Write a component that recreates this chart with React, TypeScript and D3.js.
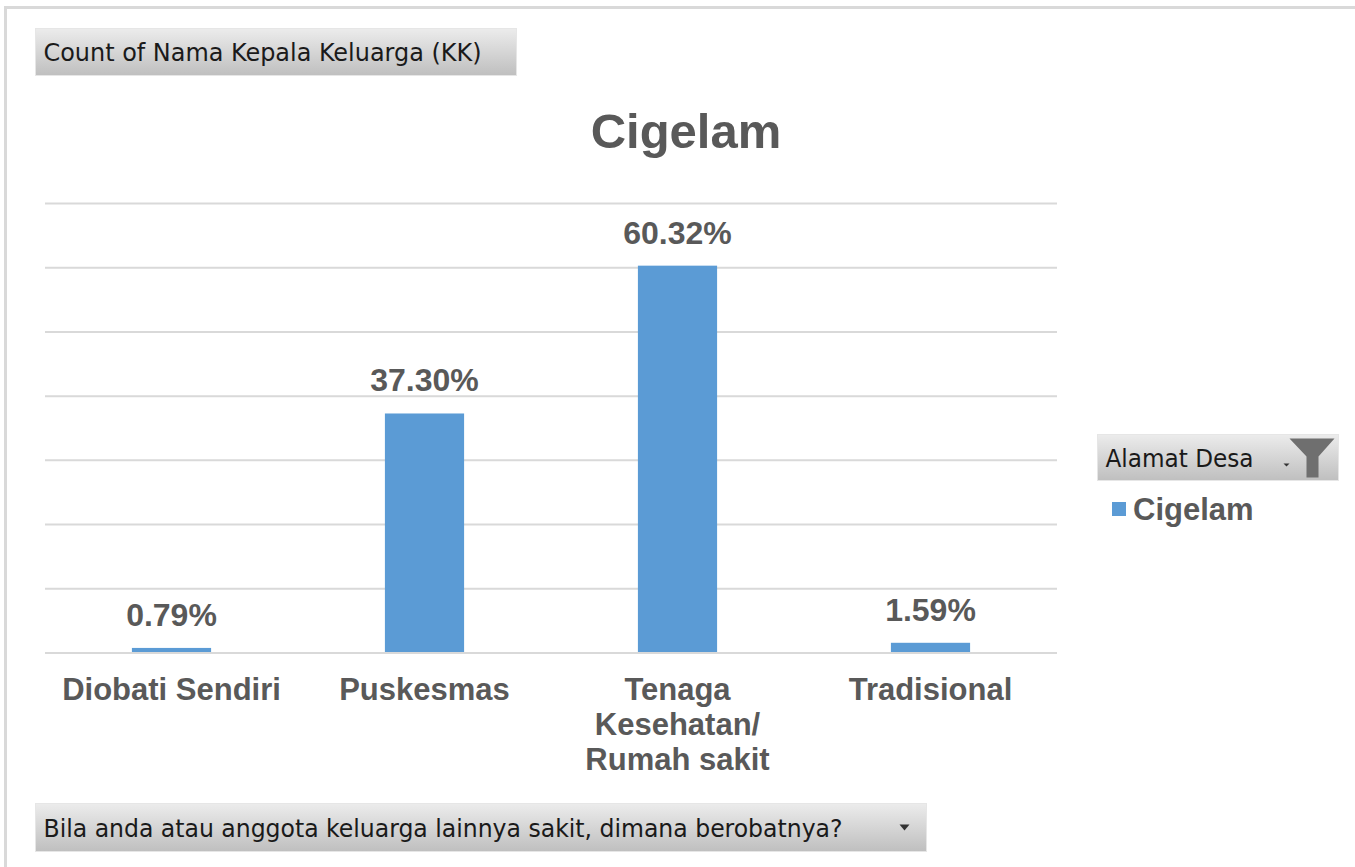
import React from 'react';
import * as d3 from 'd3';

const categories = ['Diobati Sendiri', 'Puskesmas', 'Tenaga\nKesehatan/\nRumah sakit', 'Tradisional'];
const values = [0.79, 37.3, 60.32, 1.59];
const yTicks = [0, 10, 20, 30, 40, 50, 60, 70];
const seriesName = 'Cigelam';
const chartTitle = 'Cigelam';
const valueField = 'Count of Nama Kepala Keluarga (KK)';
const legendField = 'Alamat Desa';
const axisField = 'Bila anda atau anggota keluarga lainnya sakit, dimana berobatnya?';

const W = 1355;
const H = 867;
const BAR = '#5b9bd5';
const TEXT = '#595959';
const GRID = '#d9d9d9';
const SANS = '"Liberation Sans", Arial, sans-serif';
const UI = '"DejaVu Sans Condensed", "DejaVu Sans", sans-serif';

function FieldButton({ x, y, w, h, label, textW, dropdown, filter }: {
  x: number; y: number; w: number; h: number; label: string; textW: number; dropdown?: boolean; filter?: boolean;
}) {
  return (
    <g>
      <rect x={x} y={y} width={w} height={h} fill="url(#btnGrad)" stroke="#e6e6e6" strokeWidth={1} />
      <text x={x + 8} y={y + h / 2 + 9} fontFamily={UI} fontSize={24} fill="#1a1a1a"
        textLength={textW} lengthAdjust="spacingAndGlyphs">{label}</text>
      {dropdown && (
        <path d={`M${x + w - 27},${y + h / 2 - 3} l10,0 l-5,6 z`} fill="#333" />
      )}
      {filter && (
        <g>
          <path d={`M${x + w - 55},${y + h / 2 + 6} l6,0 l-3,3 z`} fill="#333" />
          <path d={`M${x + w - 49},${y + 4} L${x + w - 4},${y + 4} L${x + w - 20},${y + 22} L${x + w - 20},${y + h - 3} L${x + w - 32},${y + h - 3} L${x + w - 32},${y + 22} Z`} fill="#6f6f6f" />
        </g>
      )}
    </g>
  );
}

export default function App() {
  const x = d3.scaleBand<string>().domain(categories).range([45, 1057]).padding(0);
  const y = d3.scaleLinear().domain([0, 70]).range([653, 203.5]);
  const barW = x.bandwidth() * 0.313;
  const fmt = (v: number) => `${v.toFixed(2)}%`;

  return (
    <svg width={W} height={H} viewBox={`0 0 ${W} ${H}`}
      style={{ position: 'absolute', left: 0, top: 0, display: 'block', background: '#fff' }}>
      <defs>
        <linearGradient id="btnGrad" x1="0" y1="0" x2="0" y2="1">
          <stop offset="0%" stopColor="#ececec" />
          <stop offset="100%" stopColor="#bfbfbf" />
        </linearGradient>
      </defs>

      {/* chart frame */}
      <rect x={5.5} y={7.5} width={W + 20} height={H + 20} fill="#fff" stroke={GRID} strokeWidth={3} />

      <FieldButton x={35.5} y={28.5} w={481} h={47} label={valueField} textW={438} />

      <text x={686} y={148} textAnchor="middle" fontFamily={SANS} fontWeight="bold" fontSize={49} fill={TEXT}>
        {chartTitle}
      </text>

      {/* gridlines */}
      {yTicks.map(t => (
        <line key={t} x1={45} x2={1057} y1={y(t)} y2={y(t)} stroke={GRID} strokeWidth={2} />
      ))}

      {/* bars */}
      {categories.map((c, i) => {
        const cx = (x(c) as number) + x.bandwidth() / 2;
        return (
          <g key={c}>
            <rect x={cx - barW / 2} y={y(values[i])} width={barW} height={y(0) - y(values[i]) - 1} fill={BAR} />
            <text x={cx} y={y(values[i]) - 22} textAnchor="middle" fontFamily={SANS} fontWeight="bold"
              fontSize={32} fill={TEXT}>{fmt(values[i])}</text>
            <text x={cx} y={700} textAnchor="middle" fontFamily={SANS} fontWeight="bold" fontSize={31} fill={TEXT}>
              {c.split('\n').map((line, j) => (
                <tspan key={j} x={cx} dy={j === 0 ? 0 : 35}>{line}</tspan>
              ))}
            </text>
          </g>
        );
      })}

      {/* legend */}
      <FieldButton x={1097.5} y={434.5} w={241} h={46} label={legendField} textW={148} filter />
      <rect x={1112} y={502} width={14} height={14} fill={BAR} />
      <text x={1133} y={520} fontFamily={SANS} fontWeight="bold" fontSize={31} fill={TEXT}>{seriesName}</text>

      <FieldButton x={35.5} y={803.5} w={891} h={48} label={axisField} textW={799} dropdown />
    </svg>
  );
}
